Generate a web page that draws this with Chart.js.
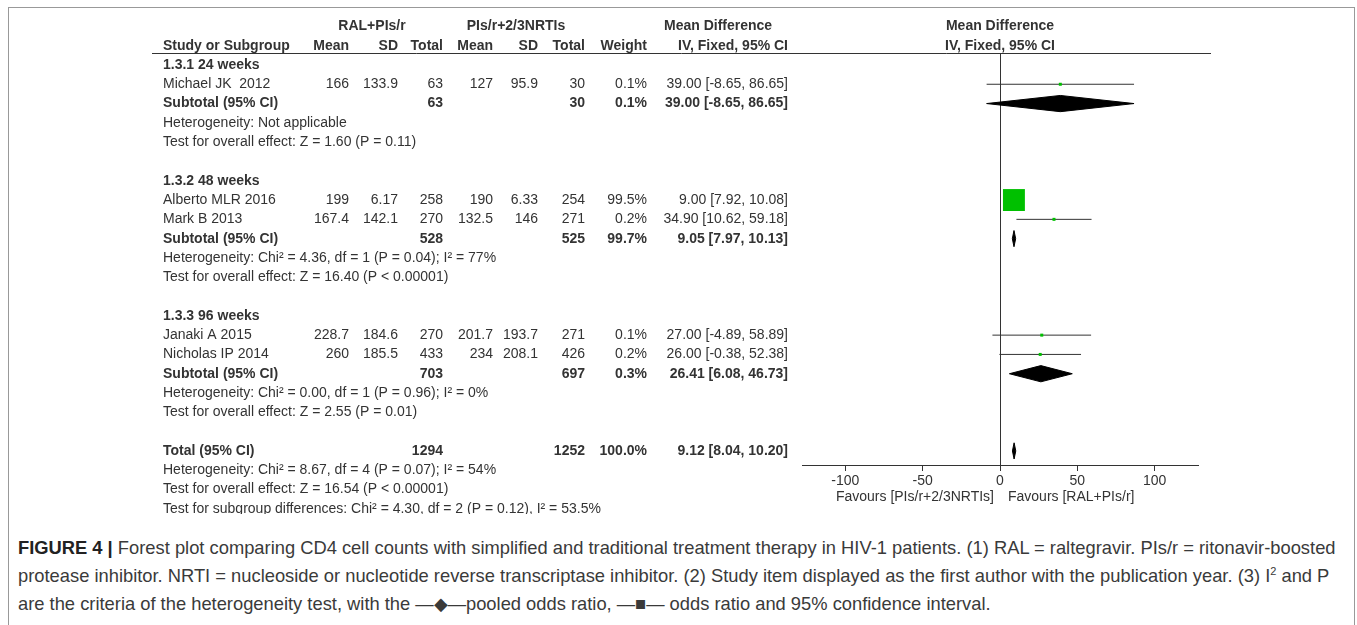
<!DOCTYPE html>
<html>
<head>
<meta charset="utf-8">
<script src="https://cdn.jsdelivr.net/npm/chart.js@4.4.1/dist/chart.umd.min.js"></script>
<style>
html, body { margin: 0; padding: 0; background: #fff; }
body { width: 1357px; height: 625px; position: relative; overflow: hidden; font-family: "Liberation Sans", Arial, sans-serif; }
#frame { position: absolute; left: 8px; top: 7px; width: 1345px; height: 700px; border: 1px solid #999; }
#forest { position: absolute; left: 0; top: 0; }
#caption { position: absolute; left: 18px; top: 534px; font-size: 16px; line-height: 28px; color: #3a3a3a; white-space: nowrap; }
#caption b { color: #222; }
#caption sup { font-size: 0.6em; line-height: 0; vertical-align: 0.6em; }
</style>
</head>
<body>
<div id="frame"></div>
<canvas id="forest" width="1357" height="514"></canvas>
<div id="caption">
  <div id="capLine1"><b>FIGURE 4 |</b> Forest plot comparing CD4 cell counts with simplified and traditional treatment therapy in HIV-1 patients. (1) RAL = raltegravir. PIs/r = ritonavir-boosted</div>
  <div>protease inhibitor. NRTI = nucleoside or nucleotide reverse transcriptase inhibitor. (2) Study item displayed as the first author with the publication year. (3) I<sup>2</sup> and P</div>
  <div>are the criteria of the heterogeneity test, with the —◆—pooled odds ratio, —■— odds ratio and 95% confidence interval.</div>
</div>
<script>
// study level data
const studyNames = ['Michael JK  2012', 'Alberto MLR 2016', 'Mark B 2013', 'Janaki A 2015', 'Nicholas IP 2014'];
const studyGroup = [0, 1, 1, 2, 2];
const ralMean = [166, 199, 167.4, 228.7, 260];
const ralSD = [133.9, 6.17, 142.1, 184.6, 185.5];
const ralTotal = [63, 258, 270, 270, 433];
const pisMean = [127, 190, 132.5, 201.7, 234];
const pisSD = [95.9, 6.33, 146, 193.7, 208.1];
const pisTotal = [30, 254, 271, 271, 426];
const studyWeight = [0.1, 99.5, 0.2, 0.1, 0.2];
const studyMD = [39.00, 9.00, 34.90, 27.00, 26.00];
const studyLo = [-8.65, 7.92, 10.62, -4.89, -0.38];
const studyHi = [86.65, 10.08, 59.18, 58.89, 52.38];

// subgroups
const groupTitles = ['1.3.1 24 weeks', '1.3.2 48 weeks', '1.3.3 96 weeks'];
const subRalTotal = [63, 528, 703];
const subPisTotal = [30, 525, 697];
const subWeight = [0.1, 99.7, 0.3];
const subMD = [39.00, 9.05, 26.41];
const subLo = [-8.65, 7.97, 6.08];
const subHi = [86.65, 10.13, 46.73];
const subHet = [
  'Heterogeneity: Not applicable',
  'Heterogeneity: Chi² = 4.36, df = 1 (P = 0.04); I² = 77%',
  'Heterogeneity: Chi² = 0.00, df = 1 (P = 0.96); I² = 0%'
];
const subTest = [
  'Test for overall effect: Z = 1.60 (P = 0.11)',
  'Test for overall effect: Z = 16.40 (P < 0.00001)',
  'Test for overall effect: Z = 2.55 (P = 0.01)'
];

// overall
const totalRal = 1294;
const totalPis = 1252;
const totalWeight = 100.0;
const totalMD = 9.12;
const totalLo = 8.04;
const totalHi = 10.20;
const totalHet = 'Heterogeneity: Chi² = 8.67, df = 4 (P = 0.07); I² = 54%';
const totalTest = 'Test for overall effect: Z = 16.54 (P < 0.00001)';
const subgroupTest = 'Test for subgroup differences: Chi² = 4.30, df = 2 (P = 0.12), I² = 53.5%';

const xTicks = [-100, -50, 0, 50, 100];
const favoursLeft = 'Favours [PIs/r+2/3NRTIs]';
const favoursRight = 'Favours [RAL+PIs/r]';

// row layout (one row per text line)
const studyRow = [];
const titleRow = [], subRow = [], hetRow = [], testRow = [];
let r = 0;
groupTitles.forEach((t, g) => {
  titleRow[g] = r++;
  studyNames.forEach((n, i) => { if (studyGroup[i] === g) studyRow[i] = r++; });
  subRow[g] = r++;
  hetRow[g] = r++;
  testRow[g] = r++;
  r++;
});
const totalRow = r;

const DH = 0.42;   // diamond half height, in rows
const FONT = '"Liberation Sans", Arial, sans-serif';
const col = { name: 163, m1: 349, sd1: 398, n1: 443, m2: 493, sd2: 538, n2: 585, w: 647, ci: 788, mdHead: 664, grp1: 372, grp2: 516 };

const fmtCI = (m, lo, hi) => m.toFixed(2) + ' [' + lo.toFixed(2) + ', ' + hi.toFixed(2) + ']';

const tablePlugin = {
  id: 'forestTable',
  afterDraw(chart) {
    const { ctx, chartArea, scales: { x, y } } = chart;
    const x0 = x.getPixelForValue(0);
    const put = (txt, px, row, align, bold) => {
      ctx.font = (bold ? 'bold ' : '') + '14px ' + FONT;
      ctx.textAlign = align;
      ctx.fillText(txt, px, y.getPixelForValue(row));
    };
    ctx.save();
    ctx.fillStyle = '#333';
    ctx.textBaseline = 'middle';

    // headers
    put('RAL+PIs/r', col.grp1, -2, 'center', true);
    put('PIs/r+2/3NRTIs', col.grp2, -2, 'center', true);
    put('Mean Difference', col.mdHead, -2, 'left', true);
    put('Mean Difference', x0, -2, 'center', true);
    put('Study or Subgroup', col.name, -1, 'left', true);
    put('Mean', col.m1, -1, 'right', true);
    put('SD', col.sd1, -1, 'right', true);
    put('Total', col.n1, -1, 'right', true);
    put('Mean', col.m2, -1, 'right', true);
    put('SD', col.sd2, -1, 'right', true);
    put('Total', col.n2, -1, 'right', true);
    put('Weight', col.w, -1, 'right', true);
    put('IV, Fixed, 95% CI', col.ci, -1, 'right', true);
    put('IV, Fixed, 95% CI', x0, -1, 'center', true);

    ctx.strokeStyle = '#333';
    ctx.lineWidth = 1;
    ctx.beginPath();
    ctx.moveTo(152, chartArea.top + 0.5);
    ctx.lineTo(1211, chartArea.top + 0.5);
    ctx.stroke();

    groupTitles.forEach((t, g) => {
      put(t, col.name, titleRow[g], 'left', true);
      put('Subtotal (95% CI)', col.name, subRow[g], 'left', true);
      put(String(subRalTotal[g]), col.n1, subRow[g], 'right', true);
      put(String(subPisTotal[g]), col.n2, subRow[g], 'right', true);
      put(subWeight[g].toFixed(1) + '%', col.w, subRow[g], 'right', true);
      put(fmtCI(subMD[g], subLo[g], subHi[g]), col.ci, subRow[g], 'right', true);
      put(subHet[g], col.name, hetRow[g], 'left', false);
      put(subTest[g], col.name, testRow[g], 'left', false);
    });
    studyNames.forEach((n, i) => {
      const row = studyRow[i];
      put(n, col.name, row, 'left', false);
      put(String(ralMean[i]), col.m1, row, 'right', false);
      put(String(ralSD[i]), col.sd1, row, 'right', false);
      put(String(ralTotal[i]), col.n1, row, 'right', false);
      put(String(pisMean[i]), col.m2, row, 'right', false);
      put(String(pisSD[i]), col.sd2, row, 'right', false);
      put(String(pisTotal[i]), col.n2, row, 'right', false);
      put(studyWeight[i].toFixed(1) + '%', col.w, row, 'right', false);
      put(fmtCI(studyMD[i], studyLo[i], studyHi[i]), col.ci, row, 'right', false);
    });
    put('Total (95% CI)', col.name, totalRow, 'left', true);
    put(String(totalRal), col.n1, totalRow, 'right', true);
    put(String(totalPis), col.n2, totalRow, 'right', true);
    put(totalWeight.toFixed(1) + '%', col.w, totalRow, 'right', true);
    put(fmtCI(totalMD, totalLo, totalHi), col.ci, totalRow, 'right', true);
    put(totalHet, col.name, totalRow + 1, 'left', false);
    put(totalTest, col.name, totalRow + 2, 'left', false);
    put(subgroupTest, col.name, totalRow + 3, 'left', false);

    // favours labels under the axis
    ctx.font = '14px ' + FONT;
    ctx.textAlign = 'right';
    ctx.fillText(favoursLeft, x0 - 6, chartArea.bottom + 32);
    ctx.textAlign = 'left';
    ctx.fillText(favoursRight, x0 + 8, chartArea.bottom + 32);
    ctx.restore();
  }
};

const pooled = subMD.map((m, g) => ({ m, lo: subLo[g], hi: subHi[g], row: subRow[g] }))
  .concat([{ m: totalMD, lo: totalLo, hi: totalHi, row: totalRow }]);

const datasets = [
  {
    label: 'studies',
    data: studyMD.map((v, i) => ({ x: v, y: studyRow[i] })),
    pointStyle: 'rect',
    pointRadius: studyWeight.map(w => Math.max(1.5, 1.1 * Math.sqrt(w)) / Math.SQRT1_2),
    pointBackgroundColor: '#00c000',
    pointBorderColor: '#00c000',
    pointBorderWidth: 0
  },
  ...pooled.map(p => ({
    label: 'pooled',
    data: [{ x: p.lo, y: p.row }, { x: p.m, y: p.row - DH }, { x: p.hi, y: p.row }, { x: p.m, y: p.row + DH }, { x: p.lo, y: p.row }],
    showLine: true, fill: 'shape', tension: 0,
    backgroundColor: '#000', borderColor: '#000', borderWidth: 1, pointRadius: 0
  })),
  ...studyLo.map((lo, i) => ({
    label: 'ci',
    data: [{ x: lo, y: studyRow[i] }, { x: studyHi[i], y: studyRow[i] }],
    showLine: true, borderColor: '#333', borderWidth: 1, pointRadius: 0
  }))
];

Chart.defaults.font.family = FONT;

new Chart(document.getElementById('forest'), {
  type: 'scatter',
  data: { datasets },
  options: {
    responsive: false, animation: false, events: [],
    layout: { padding: { left: 802, right: 159, top: 53, bottom: 19 } },
    plugins: { legend: { display: false }, tooltip: { enabled: false } },
    scales: {
      x: {
        type: 'linear', min: -128, max: 128,
        afterBuildTicks: s => { s.ticks = xTicks.map(v => ({ value: v })); },
        afterFit: s => { s.height = 30; },
        grid: {
          color: c => (c.tick && c.tick.value === 0 ? '#333' : 'rgba(0,0,0,0)'),
          tickColor: '#333', tickLength: 6, lineWidth: 1
        },
        border: { display: true, color: '#333', width: 1 },
        ticks: { color: '#333', font: { size: 14 }, padding: 2, maxRotation: 0, callback: v => String(v) }
      },
      y: { type: 'linear', display: false, reverse: true, min: -0.62, max: 20.73 }
    }
  },
  plugins: [tablePlugin]
});

// fit the caption's first line to the figure width
const cap = document.getElementById('caption');
const line1 = document.getElementById('capLine1');
const rng = document.createRange();
rng.selectNodeContents(line1);
const tw = rng.getBoundingClientRect().width;
cap.style.fontSize = (16 * 1318 / tw).toFixed(2) + 'px';
</script>
</body>
</html>
